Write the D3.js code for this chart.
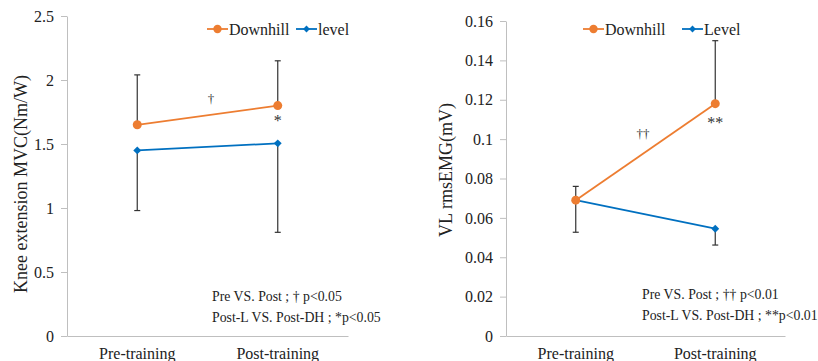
<!DOCTYPE html>
<html>
<head>
<meta charset="utf-8">
<script src="https://cdn.jsdelivr.net/npm/d3@7"></script>
<style>
  body { margin: 0; background: #fff; }
  svg { display: block; }
  svg text { font-family: "Liberation Serif", "Times New Roman", serif; }
</style>
</head>
<body>
<svg id="chart" width="818" height="361"></svg>
<script>
const categories = ['Pre-training', 'Post-training'];

// Left panel: knee extension MVC
const mvcDownhill = [1.65, 1.80];
const mvcLevel = [1.45, 1.505];
const mvcDownhillErrUp = [2.04, 2.15];
const mvcLevelErrDown = [0.98, 0.81];
const mvcTicks = [0, 0.5, 1, 1.5, 2, 2.5];

// Right panel: VL rmsEMG
const emgDownhill = [0.069, 0.118];
const emgLevel = [0.069, 0.0545];
const emgDownhillErrUp = [0.076, 0.15];
const emgLevelErrDown = [0.0527, 0.0462];
const emgTicks = [0, 0.02, 0.04, 0.06, 0.08, 0.1, 0.12, 0.14, 0.16];

const orange = '#ed7d31';
const blue = '#0070c0';
const serif = 'Liberation Serif, Times New Roman, serif';
const svg = d3.select('#chart');

function panel(opt) {
  const g = svg.append('g');
  const x = d3.scaleBand().domain(categories).range([opt.left, opt.right]);
  const y = d3.scaleLinear().domain([0, opt.max]).range([opt.bottom, opt.top]);
  const cx = d => x(d) + x.bandwidth() / 2;

  // y axis
  const ya = g.append('g')
    .attr('transform', `translate(${opt.left},0)`)
    .call(d3.axisLeft(y).tickValues(opt.ticks).tickSize(6).tickSizeOuter(0).tickPadding(7)
      .tickFormat(d => String(+d.toFixed(2))));
  ya.attr('font-family', serif).attr('font-size', 16);
  ya.select('.domain').attr('stroke', '#bfbfbf');
  ya.selectAll('.tick line').attr('stroke', '#bfbfbf');
  ya.selectAll('text').attr('fill', '#222');

  // x axis
  const xa = g.append('g')
    .attr('transform', `translate(0,${opt.bottom})`)
    .call(d3.axisBottom(x).tickSize(0).tickPadding(12));
  xa.attr('font-family', serif).attr('font-size', 16);
  xa.select('.domain').attr('stroke', '#bfbfbf');
  xa.selectAll('text').attr('fill', '#222');

  // y title
  g.append('text')
    .attr('transform', `translate(${opt.titleX},${opt.titleY}) rotate(-90)`)
    .attr('text-anchor', 'middle')
    .attr('fill', '#222')
    .attr('font-size', 18)
    .text(opt.title);

  // error bars
  const bars = [];
  categories.forEach((c, i) => {
    bars.push({ c, from: opt.down[i], to: opt.up[i] });
    bars.push({ c, from: opt.level[i], to: opt.levelErr[i] });
  });
  bars.forEach(b => {
    g.append('line')
      .attr('x1', cx(b.c)).attr('x2', cx(b.c))
      .attr('y1', y(b.from)).attr('y2', y(b.to))
      .attr('stroke', '#333').attr('stroke-width', 1.2);
    g.append('line')
      .attr('x1', cx(b.c) - 3).attr('x2', cx(b.c) + 3)
      .attr('y1', y(b.to)).attr('y2', y(b.to))
      .attr('stroke', '#333').attr('stroke-width', 1.2);
  });

  const line = d3.line().x((d, i) => cx(categories[i])).y(d => y(d));

  // level series
  g.append('path').datum(opt.level)
    .attr('fill', 'none').attr('stroke', blue).attr('stroke-width', 1.8).attr('d', line);
  g.selectAll(null).data(opt.level).join('path')
    .attr('transform', (d, i) => `translate(${cx(categories[i])},${y(d)})`)
    .attr('d', d3.symbol(d3.symbolDiamond2, 40)())
    .attr('fill', blue);

  // downhill series
  g.append('path').datum(opt.down)
    .attr('fill', 'none').attr('stroke', orange).attr('stroke-width', 1.8).attr('d', line);
  g.selectAll(null).data(opt.down).join('circle')
    .attr('cx', (d, i) => cx(categories[i])).attr('cy', d => y(d)).attr('r', 4.5)
    .attr('fill', orange);

  // legend
  const leg = g.append('g').attr('transform', `translate(0,${opt.legY})`);
  opt.legend.forEach(l => {
    leg.append('line').attr('x1', l.x).attr('x2', l.x + 21).attr('y1', 0).attr('y2', 0)
      .attr('stroke', l.color).attr('stroke-width', 1.8);
    if (l.shape === 'circle') {
      leg.append('circle').attr('cx', l.x + 10.5).attr('cy', 0).attr('r', 4.2).attr('fill', l.color);
    } else {
      leg.append('path').attr('transform', `translate(${l.x + 10.5},0)`)
        .attr('d', d3.symbol(d3.symbolDiamond2, 30)()).attr('fill', l.color);
    }
    leg.append('text').attr('x', l.x + 22).attr('y', 5.5).attr('fill', '#222')
      .attr('font-size', 16).text(l.label);
  });

  // significance markers
  g.append('text').attr('x', opt.dagger.x).attr('y', opt.dagger.y).attr('text-anchor', 'middle')
    .attr('fill', '#333').attr('font-size', 13).text(opt.dagger.t);
  g.append('text').attr('x', cx(categories[1])).attr('y', opt.star.y).attr('text-anchor', 'middle')
    .attr('fill', '#333').attr('font-size', 16).text(opt.star.t);

  // notes
  opt.notes.forEach((t, i) => {
    g.append('text').attr('x', opt.noteX).attr('y', opt.noteY + i * 21)
      .attr('fill', '#222').attr('font-size', 13.8).text(t);
  });
}

panel({
  left: 67, right: 348, top: 16, bottom: 336, max: 2.5, ticks: mvcTicks,
  down: mvcDownhill, up: mvcDownhillErrUp, level: mvcLevel, levelErr: mvcLevelErrDown,
  title: 'Knee extension MVC(Nm/W)', titleX: 27, titleY: 184,
  legY: 29,
  legend: [
    { x: 207, label: 'Downhill', color: orange, shape: 'circle' },
    { x: 296, label: 'level', color: blue, shape: 'diamond' }
  ],
  dagger: { x: 211, y: 103, t: '†' },
  star: { y: 126, t: '*' },
  notes: ['Pre VS. Post ; † p<0.05', 'Post-L VS. Post-DH ; *p<0.05'],
  noteX: 212, noteY: 301
});

panel({
  left: 506, right: 785, top: 21, bottom: 336, max: 0.16, ticks: emgTicks,
  down: emgDownhill, up: emgDownhillErrUp, level: emgLevel, levelErr: emgLevelErrDown,
  title: 'VL rmsEMG(mV)', titleX: 452, titleY: 170,
  legY: 29,
  legend: [
    { x: 583, label: 'Downhill', color: orange, shape: 'circle' },
    { x: 682, label: 'Level', color: blue, shape: 'diamond' }
  ],
  dagger: { x: 643, y: 138, t: '††' },
  star: { y: 128, t: '**' },
  notes: ['Pre VS. Post ; †† p<0.01', 'Post-L VS. Post-DH ; **p<0.01'],
  noteX: 642, noteY: 299
});
</script>
</body>
</html>
